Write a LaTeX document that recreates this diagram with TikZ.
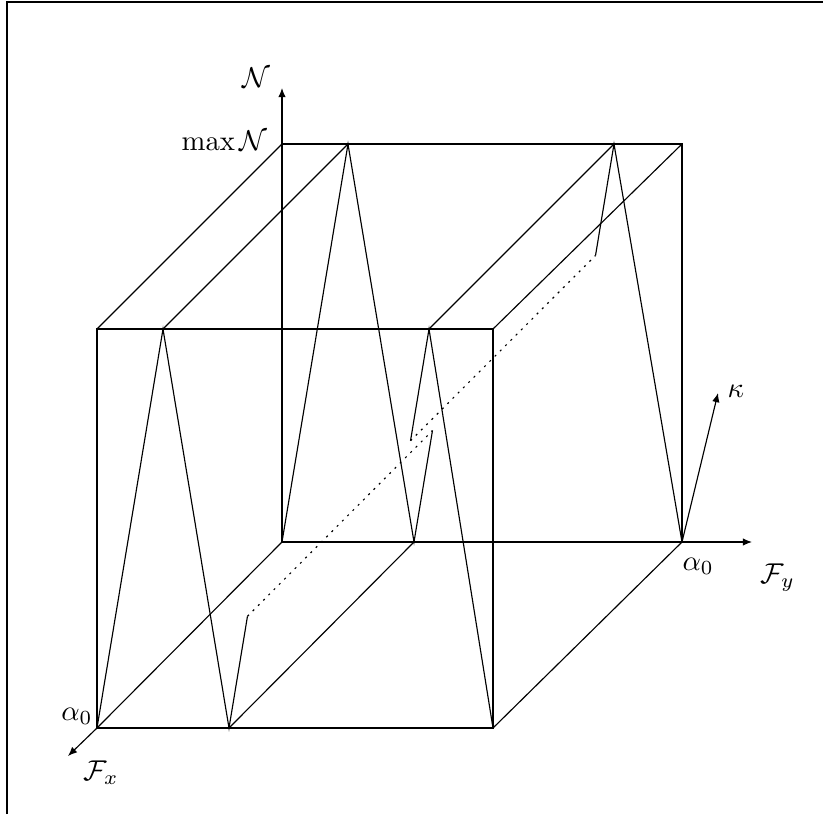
\documentclass[tikz,border=0pt]{standalone}
\usetikzlibrary{calc,arrows.meta}
\begin{document}
\begin{tikzpicture}[x=0.1227mm,y=-0.1227mm,line width=0.4pt,
  axis/.style={-{Latex[length=3.2pt,width=2.6pt]}},
  lbl/.style={inner sep=0pt},
  dots/.style={dash pattern=on 0.7pt off 1.9pt}]
\useasboundingbox (0,0) rectangle (823,814);
% frame
\draw (7,814) -- (7,2) -- (823,2);
% front face points
\coordinate (f0) at (97,728);
\coordinate (f1) at (163,329);
\coordinate (f2) at (229,728);
\coordinate (f3) at (295,329);
\coordinate (f4) at (363,728);
\coordinate (f5) at (429,329);
\coordinate (f6) at (493,728);
\coordinate (ftl) at (97,329);
\coordinate (ftr) at (493,329);
% back face points
\coordinate (b0) at (282,542);
\coordinate (b1) at (348,144);
\coordinate (b2) at (414,542);
\coordinate (b3) at (480,144);
\coordinate (b4) at (548,542);
\coordinate (b5) at (614,144);
\coordinate (b6) at (682,542);
\coordinate (btl) at (282,144);
\coordinate (btr) at (682,144);
% axis ends
\coordinate (Nend) at (282,88);
\coordinate (Fyend) at (752,542);
\coordinate (Fxend) at (68,756);
\coordinate (kend) at (718,393);
% truncation points
\coordinate (t1) at ($(f2)!0.28!(f3)$);
\coordinate (t2) at ($(f4)!0.72!(f5)$);
\coordinate (u1) at ($(b2)!0.28!(b3)$);
\coordinate (u2) at ($(b4)!0.72!(b5)$);
% box
\draw (f0) -- (f6) -- (ftr) -- (ftl) -- cycle;
\draw (btl) -- (btr) -- (b6);
\draw (f0) -- (b0);
\draw (f6) -- (b6);
\draw (ftl) -- (btl);
\draw (ftr) -- (btr);
% depth lines of zigzag
\draw (f1) -- (b1);
\draw (f5) -- (b5);
\draw (f2) -- (b2);
% front zigzag
\draw (f0) -- (f1) -- (f2) -- (t1);
\draw (t2) -- (f5) -- (f6);
% back zigzag
\draw (b0) -- (b1) -- (b2) -- (u1);
\draw (u2) -- (b5) -- (b6);
% dotted continuations
\draw[dots] (t1) -- (u1);
\draw[dots] (t2) -- (u2);
% axes
\draw[axis] (b0) -- (Nend);
\draw[axis] (b0) -- (Fyend);
\draw[axis] (f0) -- (Fxend);
\draw[axis] (b6) -- (kend);
% labels
\node[lbl,anchor=base west] (lN) at (242,87) {$\mathcal{N}$};
\node[lbl,anchor=base east] (lmax) at (268,150) {$\max\mathcal{N}$};
\node[lbl,anchor=base west] (la1) at (682,570) {$\alpha_0$};
\node[lbl,anchor=base west] (lFy) at (760,583) {$\mathcal{F}_y$};
\node[lbl,anchor=base west] (lk) at (727,397) {$\kappa$};
\node[lbl,anchor=base east] (la0) at (93,720) {$\alpha_0$};
\node[lbl,anchor=base west] (lFx) at (83,780) {$\mathcal{F}_x$};
\end{tikzpicture}
\end{document}
